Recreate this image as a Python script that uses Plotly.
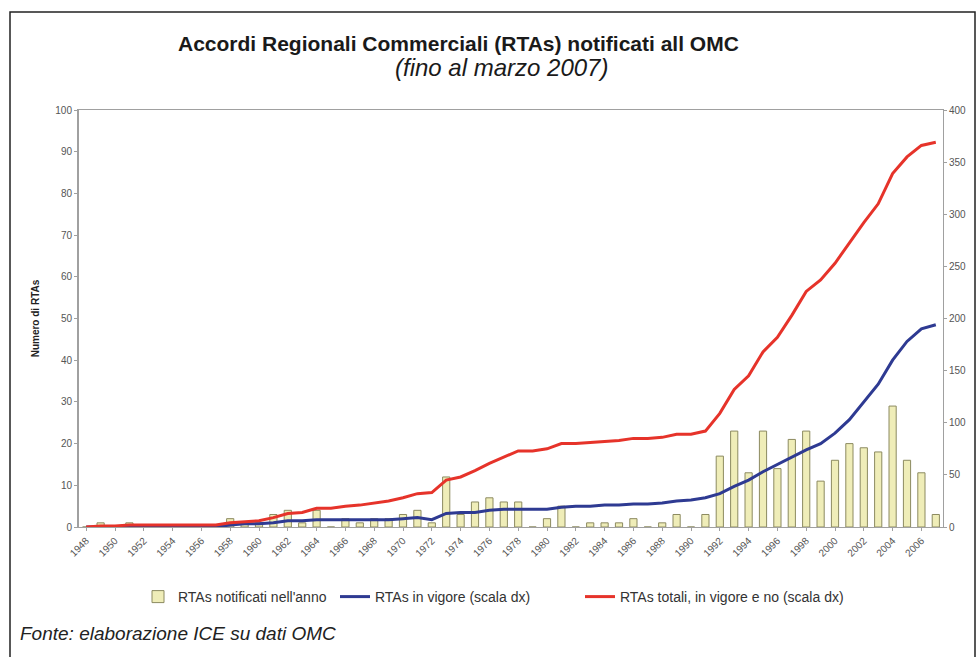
import plotly.graph_objects as go

# Anni 1948-2007
years = list(range(1948, 2008))

# RTAs notificati nell'anno (scala sx)
notified = [0, 1, 0, 1, 0, 0, 0, 0, 0, 0,
            2, 1, 1, 3, 4, 1, 4, 0, 2, 1,
            2, 2, 3, 4, 1, 12, 3, 6, 7, 6,
            6, 0, 2, 5, 0, 1, 1, 1, 2, 0,
            1, 3, 0, 3, 17, 23, 13, 23, 14, 21,
            23, 11, 16, 20, 19, 18, 29, 16, 13, 3]

# RTAs in vigore (scala dx)
in_force = [0, 0, 0, 0, 0, 0, 0, 0, 0, 0,
            2, 3, 3, 4, 6, 6, 7, 7, 7, 7,
            7, 7, 8, 9, 7, 13, 14, 14, 16, 17,
            17, 17, 17, 19, 20, 20, 21, 21, 22, 22,
            23, 25, 26, 28, 32, 39, 45, 53, 60, 67,
            74, 80, 90, 103, 120, 137, 160, 178, 190, 194]

# RTAs totali, in vigore e no (scala dx)
total = [0, 1, 1, 2, 2, 2, 2, 2, 2, 2,
         4, 5, 6, 9, 13, 14, 18, 18, 20, 21,
         23, 25, 28, 32, 33, 45, 48, 54, 61, 67,
         73, 73, 75, 80, 80, 81, 82, 83, 85, 85,
         86, 89, 89, 92, 109, 132, 145, 168, 182, 203,
         226, 237, 253, 273, 292, 310, 339, 355, 366, 369]

tick_years = list(range(1948, 2007, 2))
left_ticks = list(range(0, 101, 10))
right_ticks = list(range(0, 401, 50))

FONT = "Liberation Sans, Arial, sans-serif"

fig = go.Figure()
fig.add_trace(go.Bar(x=years, y=notified, name="RTAs notificati nell'anno", legendwidth=152,
                     width=0.5, marker=dict(color="#efedb8", line=dict(color="#8c8a60", width=1))))
fig.add_trace(go.Scatter(x=years, y=in_force, name="RTAs in vigore (scala dx)", yaxis="y2",
                         legendwidth=200, mode="lines", line=dict(color="#2e3a92", width=3)))
fig.add_trace(go.Scatter(x=years, y=total, name="RTAs totali, in vigore e no (scala dx)", yaxis="y2",
                         mode="lines", line=dict(color="#e6332a", width=3)))

# plot area in pixels
L, R, T, B = 79, 943, 110, 527
W, H = 980, 657
pw, ph = R - L, B - T

def px(x):
    return (x - L) / pw

def py(y):
    return (B - y) / ph

axis_common = dict(showgrid=False, zeroline=False, showline=True, linecolor="#a0a0a0",
                   ticks="outside", ticklen=3, tickcolor="#a0a0a0",
                   tickfont=dict(size=10, color="#555"))

fig.update_layout(
    width=W, height=H,
    margin=dict(l=L, r=W - R, t=T, b=H - B),
    paper_bgcolor="white", plot_bgcolor="white",
    font=dict(family=FONT, color="#333", size=10),
    showlegend=True,
    xaxis=dict(range=[1947.5, 2007.5], tickvals=tick_years, tickangle=-45,
               linewidth=1, mirror=True, **axis_common),
    yaxis=dict(range=[0, 100], tickvals=left_ticks, linewidth=2,
               title=dict(text="<b>Numero di RTAs</b>", font=dict(size=10, color="#222"), standoff=14),
               **axis_common),
    yaxis2=dict(range=[0, 400], tickvals=right_ticks, overlaying="y", side="right",
                linewidth=1, **axis_common),
    legend=dict(orientation="h", x=px(138), xanchor="left", y=py(597), yanchor="middle",
                font=dict(size=14, color="#333"), itemwidth=30, traceorder="normal",
                entrywidthmode="pixels"),
    shapes=[dict(type="rect", xref="paper", yref="paper", layer="below",
                 x0=px(10), x1=px(975), y0=py(662), y1=py(12),
                 line=dict(color="#222", width=1.5))],
    annotations=[
        dict(text="<b>Accordi Regionali Commerciali (RTAs) notificati all OMC</b>",
             xref="paper", yref="paper", x=px(458), y=py(43), yanchor="middle", showarrow=False,
             font=dict(size=21, color="#1a1a1a")),
        dict(text="<i>(fino al marzo 2007)</i>",
             xref="paper", yref="paper", x=px(501), y=py(67), yanchor="middle", showarrow=False,
             font=dict(size=24, color="#1a1a1a")),
        dict(text="<i>Fonte: elaborazione ICE su dati OMC</i>",
             xref="paper", yref="paper", x=px(18), y=py(633), xanchor="left", yanchor="middle",
             showarrow=False, font=dict(size=19, color="#222")),
    ],
)

fig.write_html("out.html", config={"displayModeBar": False},
               post_script="document.body.style.margin='0';document.body.style.overflow='hidden';")
